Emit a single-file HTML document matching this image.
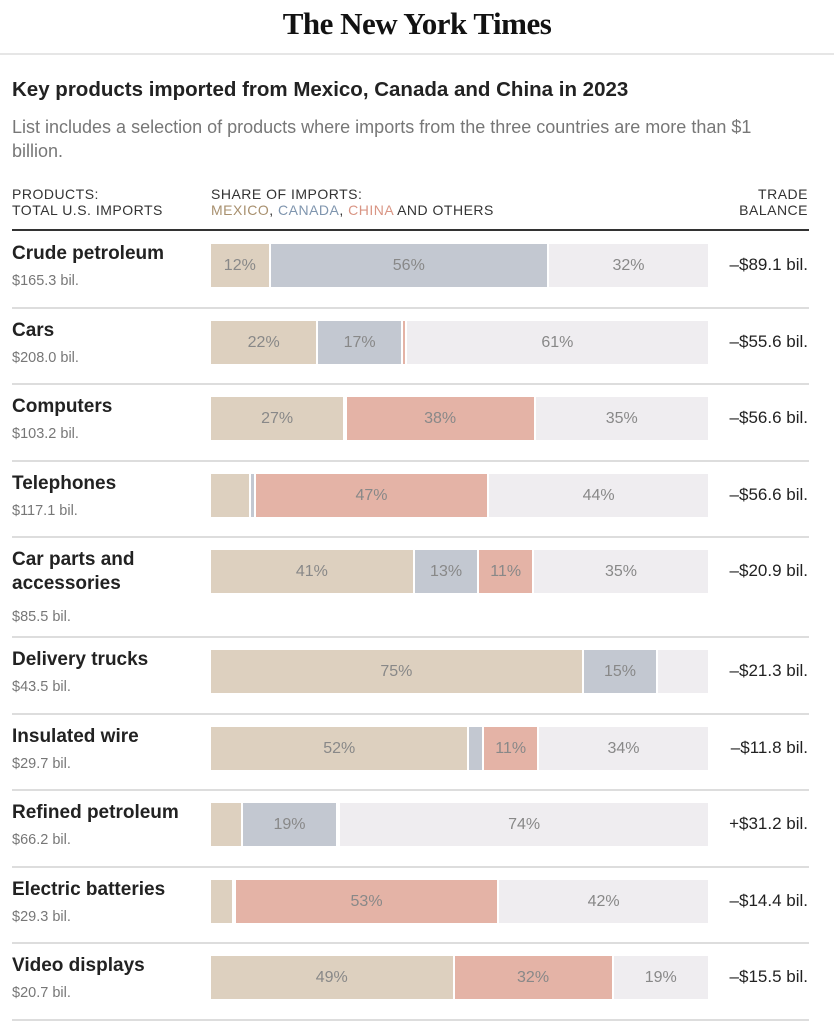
<!DOCTYPE html>
<html><head><meta charset="utf-8"><style>
body{margin:0;width:834px;height:1024px;background:#fff;overflow:hidden;font-family:"Liberation Sans Narrow","Liberation Sans",sans-serif;color:#121212;position:relative}
.a{position:absolute;white-space:nowrap}
.logo{left:0;width:834px;top:6px;text-align:center;font-family:"Liberation Serif",serif;font-weight:bold;font-size:31px;letter-spacing:-0.5px}
.hl{left:0;width:834px;top:53px;height:2px;background:#e6e6e6}
.title{left:12px;top:78px;font-size:20.5px;font-weight:bold;color:#222}
.sub{left:12px;top:115px;font-size:18px;color:#777;line-height:24px;white-space:normal;width:790px}
.ch{font-size:14px;color:#333;letter-spacing:0.5px;line-height:16px;top:186px}
.thick{left:12px;width:797px;top:229px;height:2px;background:#333}
.sep{left:12px;width:797px;height:2px;background:#ddd}
.pn{left:12px;font-size:19px;font-weight:bold;color:#222;line-height:24px}
.tot{left:12px;font-size:14.5px;color:#777}
.tb{right:26px;font-size:17px;color:#222}
.seg{position:absolute;height:43px;text-align:center;line-height:43px;font-size:16px;color:#888;box-sizing:border-box;border-right:2px solid #fff;overflow:hidden}
</style></head><body>
<div class="a logo">The New York Times</div>
<div class="a hl"></div>
<div class="a title">Key products imported from Mexico, Canada and China in 2023</div>
<div class="a sub">List includes a selection of products where imports from the three countries are more than $1 billion.</div>
<div class="a ch" style="left:12px">PRODUCTS:<br>TOTAL U.S. IMPORTS</div>
<div class="a ch" style="left:211px">SHARE OF IMPORTS:<br><span style="color:#a8906e">MEXICO</span>, <span style="color:#7f95ae">CANADA</span>, <span style="color:#d99584">CHINA</span> AND OTHERS</div>
<div class="a ch" style="right:26px;text-align:right">TRADE<br>BALANCE</div>
<div class="a thick"></div>
<div id="rows"></div>
<script>
const products=["Crude petroleum","Cars","Computers","Telephones","Car parts and accessories","Delivery trucks","Insulated wire","Refined petroleum","Electric batteries","Video displays"];
const totals=["$165.3 bil.","$208.0 bil.","$103.2 bil.","$117.1 bil.","$85.5 bil.","$43.5 bil.","$29.7 bil.","$66.2 bil.","$29.3 bil.","$20.7 bil."];
const mexico=[12,21.6,27,8,41,75,52,6.5,4.6,49];
const canada=[56,17,0.3,1,13,15,3,19,0.4,0];
const china=[0,0.8,38,47,11,0,11,0.5,53,32];
const others=[32,60.6,34.7,44,35,10,34,74,42,19];
const balance=["\u2013$89.1 bil.","\u2013$55.6 bil.","\u2013$56.6 bil.","\u2013$56.6 bil.","\u2013$20.9 bil.","\u2013$21.3 bil.","\u2013$11.8 bil.","+$31.2 bil.","\u2013$14.4 bil.","\u2013$15.5 bil."];
const colors=["#ddd0bf","#c3c8d1","#e4b3a6","#efedf0"];
const segNames=["mexico","canada","china","others"];
const X0=211,W=497;
const xs=v=>v/100*W;
const root=document.getElementById('rows');
let rowTop=231;
products.forEach((p,i)=>{
  const tall=p.length>20;
  const h=tall?100:76.5;
  const n=document.createElement('div');n.className='a pn';n.style.top=(rowTop+11)+'px';
  n.style.width='190px';n.style.whiteSpace='normal';n.textContent=p;
  
  
  root.appendChild(n);
  const t=document.createElement('div');t.className='a tot';t.style.top=(rowTop+(tall?72:42))+'px';t.textContent=totals[i];
  
  
  root.appendChild(t);
  const vals=[mexico[i],canada[i],china[i],others[i]];
  let x=X0;
  vals.forEach((v,k)=>{
    if(v<=0)return;
    const s=document.createElement('div');s.className='seg';
    const w=xs(v);
    s.style.left=x+'px';s.style.top=(rowTop+13)+'px';s.style.width=w+'px';s.style.background=colors[k];
    if(k==3)s.style.borderRight='none';
    if(v>10)s.textContent=Math.round(v)+'%';
    
    
    root.appendChild(s);x+=w;
  });
  const b=document.createElement('div');b.className='a tb';b.style.top=(rowTop+24)+'px';b.textContent=balance[i];
  
  
  root.appendChild(b);
  rowTop+=h;
  const sp=document.createElement('div');sp.className='a sep';sp.style.top=(rowTop-1)+'px';
  
  
  root.appendChild(sp);
});
</script>
</body></html>
